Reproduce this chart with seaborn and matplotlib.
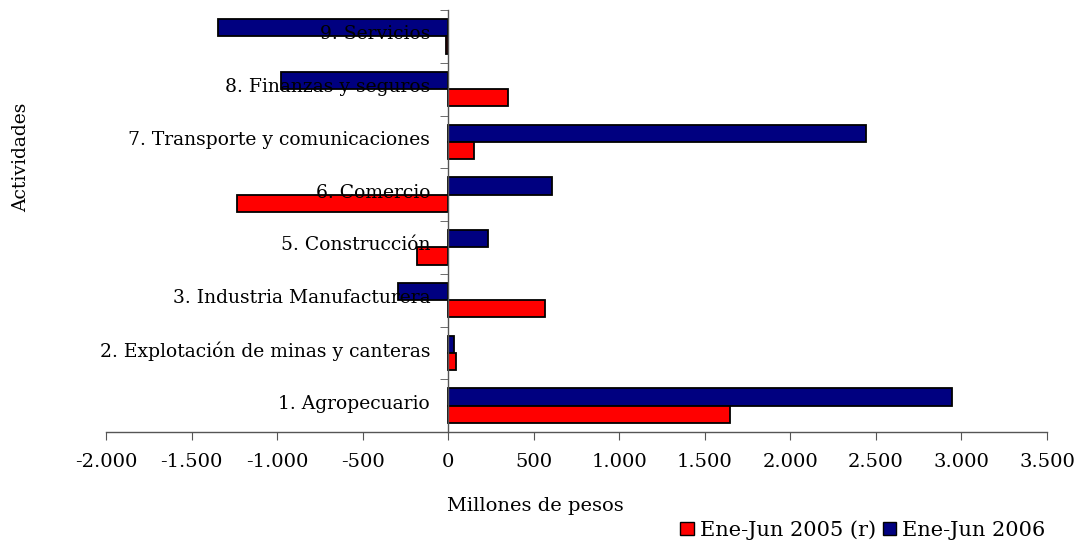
import numpy as np
import pandas as pd
import seaborn as sns
from matplotlib import pyplot as plt
from matplotlib.patches import Patch
from matplotlib.ticker import FuncFormatter, FixedLocator
from matplotlib.transforms import ScaledTranslation

# data (millones de pesos), top to bottom
actividades = ["9. Servicios", "8. Finanzas y seguros", "7. Transporte y comunicaciones",
               "6. Comercio", "5. Construcción", "3. Industria Manufacturera",
               "2. Explotación de minas y canteras", "1. Agropecuario"]
ene_jun_2005 = [-12, 349, 153, -1233, -185, 567, 45, 1647]
ene_jun_2006 = [-1346, -977, 2440, 609, 230, -293, 32, 2945]
series = ["Ene-Jun 2005 (r)", "Ene-Jun 2006"]
colors = {"Ene-Jun 2005 (r)": "#FF0000", "Ene-Jun 2006": "#000080"}

df = pd.DataFrame({"Actividades": actividades * 2,
                   "Serie": [series[0]] * len(actividades) + [series[1]] * len(actividades),
                   "Valor": ene_jun_2005 + ene_jun_2006})

sns.set_style("white")
plt.rcParams['font.family'] = ['DejaVu Serif']
plt.rcParams['text.color'] = 'black'
plt.rcParams['xtick.color'] = 'black'
plt.rcParams['ytick.color'] = 'black'

fig = plt.figure(figsize=(10.83, 5.42), dpi=100)
ax = fig.add_axes([106 / 1083, 1 - 432 / 542, (1047 - 106) / 1083, (432 - 10) / 542])

sns.barplot(data=df, y="Actividades", x="Valor", hue="Serie", order=actividades,
            hue_order=["Ene-Jun 2006", "Ene-Jun 2005 (r)"], palette=colors,
            orient="h", width=0.65, saturation=1, edgecolor="black", linewidth=1.3,
            legend=False, ax=ax)

ax.set_axisbelow(False)  # category labels sit on top of the bars, as in Excel
ax.set_xlim(-2000, 3500)
ax.set_ylim(7.5, -0.5)
ax.set_xticks(np.arange(-2000, 3501, 500))
ax.xaxis.set_major_formatter(FuncFormatter(lambda v, p: f"{int(v):,}".replace(",", ".")))

for s in ["top", "right"]:
    ax.spines[s].set_visible(False)
ax.spines["left"].set_position(("data", 0))
for s in ["left", "bottom"]:
    ax.spines[s].set_color("#555555")
    ax.spines[s].set_linewidth(1.0)

ax.yaxis.set_minor_locator(FixedLocator(np.arange(-0.5, 8, 1)))
ax.tick_params(axis="y", which="major", left=True, length=0, pad=13, labelsize=13.5)
ax.tick_params(axis="y", which="minor", left=True, length=6, direction="out", color="#555555")
ax.tick_params(axis="x", which="major", bottom=True, length=6, direction="out",
               color="#555555", labelsize=14, pad=9)
ax.set_xlabel("")
ax.set_ylabel("")

# Excel draws the category labels slightly above the group centre
for lab in ax.get_yticklabels():
    lab.set_transform(lab.get_transform() + ScaledTranslation(0, 4 / 100, fig.dpi_scale_trans))

fig.text(535 / 1083, 1 - 506 / 542, "Millones de pesos", ha="center", va="center", fontsize=14)
fig.text(21 / 1083, 1 - 157 / 542, "Actividades", ha="center", va="center",
         rotation=90, fontsize=13.5)

handles = [Patch(facecolor=colors[s], edgecolor="black", label=s) for s in series]
fig.legend(handles=handles, loc="center right", bbox_to_anchor=(1056 / 1083, 1 - 530 / 542),
           ncol=2, frameon=False, handlelength=0.65, handleheight=0.65,
           handletextpad=0.3, columnspacing=0.3, fontsize=15, borderpad=0)

fig.savefig("out.png", dpi=100)
